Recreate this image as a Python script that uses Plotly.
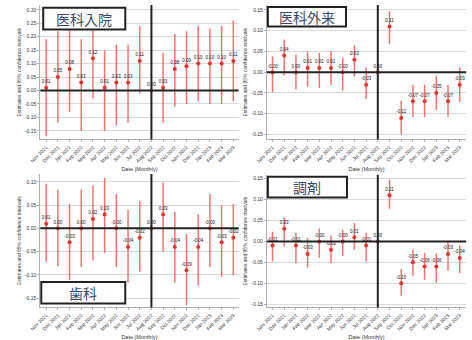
import plotly.graph_objects as go

months = ["Nov 2021", "Dec 2021", "Jan 2022", "Feb 2022", "Mar 2022", "Apr 2022",
          "May 2022", "Jun 2022", "Jul 2022", "Aug 2022", "Sep 2022", "Oct 2022",
          "Nov 2022", "Dec 2022", "Jan 2023", "Feb 2023", "Mar 2023"]
ref_month = "Aug 2022"

panel_titles = ["医科入院", "医科外来", "歯科", "調剤"]

# 医科入院 (inpatient)
inpatient_est = [0.01, 0.05, 0.08, 0.03, 0.12, 0.01, 0.03, 0.03, 0.11, 0.00,
                 0.01, 0.08, 0.09, 0.10, 0.10, 0.10, 0.11]
inpatient_hi = [0.19, 0.22, 0.23, 0.19, 0.23, 0.15, 0.17, 0.17, 0.24, 0.00,
                0.14, 0.21, 0.22, 0.24, 0.23, 0.24, 0.26]
inpatient_lo = [-0.17, -0.12, -0.08, -0.15, -0.03, -0.15, -0.13, -0.12, -0.01, 0.00,
                -0.12, -0.06, -0.05, -0.04, -0.05, -0.05, -0.04]

# 医科外来 (outpatient)
outpatient_est = [-0.00, 0.04, 0.00, 0.01, 0.01, 0.01, -0.00, 0.03, -0.03, 0.00,
                  0.11, -0.11, -0.07, -0.07, -0.05, -0.07, -0.03]
outpatient_hi = [0.038, 0.079, 0.042, 0.050, 0.046, 0.051, 0.035, 0.065, 0.012, 0.00,
                 0.147, -0.069, -0.030, -0.030, -0.009, -0.030, 0.012]
outpatient_lo = [-0.049, -0.008, -0.041, -0.035, -0.038, -0.031, -0.044, -0.011, -0.065, 0.00,
                 0.067, -0.150, -0.108, -0.108, -0.091, -0.108, -0.072]

# 歯科 (dental)
dental_est = [0.01, 0.00, -0.03, 0.00, 0.02, 0.03, -0.00, -0.04, -0.02, 0.00,
              0.03, -0.04, -0.09, -0.04, -0.00, -0.03, -0.02]
dental_hi = [0.096, 0.083, 0.052, 0.083, 0.092, 0.108, 0.074, 0.040, 0.059, 0.00,
             0.098, 0.035, -0.012, 0.030, 0.074, 0.049, 0.052]
dental_lo = [-0.072, -0.081, -0.111, -0.083, -0.069, -0.053, -0.083, -0.117, -0.093, 0.00,
             -0.051, -0.117, -0.165, -0.123, -0.083, -0.104, -0.101]

# 調剤 (pharmacy)
pharmacy_est = [-0.01, 0.03, -0.01, -0.03, -0.00, -0.02, -0.00, 0.01, -0.01, 0.00,
                0.11, -0.10, -0.05, -0.06, -0.06, -0.03, -0.04]
pharmacy_hi = [0.023, 0.057, 0.020, 0.008, 0.031, 0.014, 0.027, 0.044, 0.020, 0.00,
               0.148, -0.066, -0.020, -0.027, -0.029, -0.002, -0.009]
pharmacy_lo = [-0.048, -0.012, -0.052, -0.063, -0.039, -0.052, -0.035, -0.020, -0.048, 0.00,
               0.078, -0.130, -0.082, -0.092, -0.099, -0.070, -0.076]

series = [
    (inpatient_est, inpatient_hi, inpatient_lo),
    (outpatient_est, outpatient_hi, outpatient_lo),
    (dental_est, dental_hi, dental_lo),
    (pharmacy_est, pharmacy_hi, pharmacy_lo),
]

W, H = 472, 340

# plot-area boxes in pixels: (left, right, top, bottom)
boxes = [(30, 233, 5, 142), (262, 466, 5, 142), (30, 233, 177, 313), (262, 466, 178, 313)]
yranges = [(-0.182, 0.318), (-0.162, 0.162), (-0.170, 0.117), (-0.158, 0.159)]
yticks = [
    [0.30, 0.25, 0.20, 0.15, 0.10, 0.05, 0.0, -0.05, -0.10, -0.15],
    [0.15, 0.10, 0.05, 0.0, -0.05, -0.10, -0.15],
    [0.10, 0.05, 0.0, -0.05, -0.10, -0.15],
    [0.15, 0.10, 0.05, 0.0, -0.05, -0.10, -0.15],
]
xranges = [(-0.5, 16.45), (-0.48, 16.55), (-0.5, 16.45), (-0.48, 16.55)]
# title boxes in pixels: (left, right, top, bottom)
title_boxes = [(33, 117, 8, 30), (263, 343, 7, 27), (31, 117, 287, 309), (263, 344, 180, 201)]

FONT = "Liberation Sans, DejaVu Sans, sans-serif"
CJK = "Noto Sans CJK JP"

fig = go.Figure()
xs = list(range(len(months)))
ref_idx = months.index(ref_month)

for i, (est, hi, lo) in enumerate(series):
    ax = "" if i == 0 else str(i + 1)
    up = [h - e for h, e in zip(hi, est)]
    dn = [e - l for e, l in zip(est, lo)]
    labels = [f"{v:.2f}" for v in est]
    fig.add_trace(go.Scatter(
        x=xs, y=est, xaxis="x" + ax, yaxis="y" + ax,
        mode="markers+text",
        marker=dict(color="#e8302c", size=4, symbol="circle"),
        error_y=dict(type="data", symmetric=False, array=up, arrayminus=dn,
                     color="rgba(240,80,80,0.8)", thickness=1.5, width=0),
        text=labels, textposition="top center",
        textfont=dict(size=4.5, color="#111111", family=FONT),
        showlegend=False, cliponaxis=False,
    ))

    l, r, t, b = boxes[i]
    xd = [l / W, r / W]
    yd = [1 - b / H, 1 - t / H]
    fig.layout["xaxis" + ax] = dict(
        domain=xd, anchor="y" + ax, range=list(xranges[i]),
        tickmode="array", tickvals=xs, ticktext=months, tickangle=-45,
        tickfont=dict(size=5, color="#333333", family=FONT),
        showgrid=False, zeroline=False, showline=True, linecolor="#b0b0b0", linewidth=1,
        ticks="outside", ticklen=2, tickcolor="#b0b0b0",
        title=dict(text="Date (Monthly)", font=dict(size=5.5, color="#333333", family=FONT), standoff=4),
    )
    fig.layout["yaxis" + ax] = dict(
        domain=yd, anchor="x" + ax, range=list(yranges[i]),
        tickmode="array", tickvals=yticks[i], ticktext=[f"{v:.2f}" for v in yticks[i]],
        tickfont=dict(size=5, color="#333333", family=FONT),
        showgrid=True, gridcolor="#d9d9d9", gridwidth=1,
        zeroline=False, showline=True, linecolor="#b0b0b0", linewidth=1,
        ticks="outside", ticklen=2, tickcolor="#b0b0b0",
        title=dict(text="Estimates and 95% confidence intervals",
                   font=dict(size=5, color="#333333", family=FONT), standoff=3),
    )

    # zero reference line and intervention month marker
    fig.add_shape(type="line", xref="x" + ax + " domain", yref="y" + ax,
                  x0=0, x1=1, y0=0, y1=0, line=dict(color="#222222", width=2))
    fig.add_shape(type="line", xref="x" + ax, yref="y" + ax + " domain",
                  x0=ref_idx, x1=ref_idx, y0=0, y1=1, line=dict(color="#222222", width=2))

    # panel title box
    tl, tr, tt, tb = title_boxes[i]
    fig.add_shape(type="rect", xref="paper", yref="paper",
                  x0=tl / W, x1=tr / W, y0=1 - tb / H, y1=1 - tt / H,
                  line=dict(color="#222222", width=2), fillcolor="white", layer="above")
    fig.add_annotation(xref="paper", yref="paper",
                       x=(tl + tr) / 2 / W, y=1 - (tt + tb) / 2 / H,
                       text=panel_titles[i], showarrow=False,
                       font=dict(size=14, color="#3a4a6a", family=CJK),
                       xanchor="center", yanchor="middle")

fig.update_layout(
    width=W, height=H,
    margin=dict(l=0, r=0, t=0, b=0),
    paper_bgcolor="white", plot_bgcolor="white",
    font=dict(family=FONT),
)

fig.write_html("out.html")
